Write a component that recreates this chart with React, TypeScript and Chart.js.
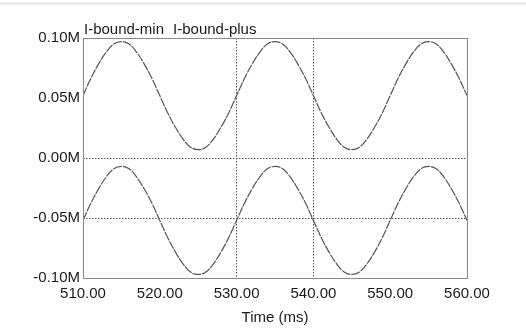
import React, { useEffect, useRef } from "react";
import { Chart, registerables } from "chart.js";

Chart.register(...registerables);

const times = [
  510, 511, 512, 513, 514, 515, 516, 517, 518, 519,
  520, 521, 522, 523, 524, 525, 526, 527, 528, 529,
  530, 531, 532, 533, 534, 535, 536, 537, 538, 539,
  540, 541, 542, 543, 544, 545, 546, 547, 548, 549,
  550, 551, 552, 553, 554, 555, 556, 557, 558, 559, 560,
];

const boundPlus = [
  0.052, 0.066, 0.078, 0.088, 0.095, 0.097, 0.095, 0.088, 0.078, 0.066,
  0.052, 0.038, 0.026, 0.016, 0.009, 0.007, 0.009, 0.016, 0.026, 0.038,
  0.052, 0.066, 0.078, 0.088, 0.095, 0.097, 0.095, 0.088, 0.078, 0.066,
  0.052, 0.038, 0.026, 0.016, 0.009, 0.007, 0.009, 0.016, 0.026, 0.038,
  0.052, 0.066, 0.078, 0.088, 0.095, 0.097, 0.095, 0.088, 0.078, 0.066, 0.052,
];

const boundMin = [
  -0.052, -0.038, -0.026, -0.016, -0.009, -0.007, -0.009, -0.016, -0.026, -0.038,
  -0.052, -0.066, -0.078, -0.088, -0.095, -0.097, -0.095, -0.088, -0.078, -0.066,
  -0.052, -0.038, -0.026, -0.016, -0.009, -0.007, -0.009, -0.016, -0.026, -0.038,
  -0.052, -0.066, -0.078, -0.088, -0.095, -0.097, -0.095, -0.088, -0.078, -0.066,
  -0.052, -0.038, -0.026, -0.016, -0.009, -0.007, -0.009, -0.016, -0.026, -0.038, -0.052,
];

const seriesNames = ["I-bound-min", "I-bound-plus"];
const xTitle = "Time (ms)";
const xMarkers = [530, 540];
const yMarkers = [0, -0.05];

const FONT = "'Liberation Sans', Arial, sans-serif";

const framePlugin = {
  id: "frame",
  afterDraw(chart: any) {
    const { ctx, chartArea } = chart;
    ctx.save();
    ctx.strokeStyle = "#e4e4e4";
    ctx.lineWidth = 2;
    ctx.beginPath();
    ctx.moveTo(0, 3.5);
    ctx.lineTo(chart.width, 3.5);
    ctx.stroke();
    ctx.strokeStyle = "#8a8a8a";
    ctx.lineWidth = 1;
    ctx.strokeRect(
      Math.round(chartArea.left) + 0.5,
      Math.round(chartArea.top) + 0.5,
      Math.round(chartArea.right - chartArea.left),
      Math.round(chartArea.bottom - chartArea.top)
    );
    ctx.fillStyle = "#1a1a1a";
    ctx.font = `15px ${FONT}`;
    ctx.textBaseline = "alphabetic";
    ctx.textAlign = "left";
    let x = chartArea.left + 1;
    seriesNames.forEach((n) => {
      ctx.fillText(n, x, chartArea.top - 4);
      x += ctx.measureText(n).width + 9;
    });
    ctx.restore();
  },
};

export default function App() {
  const ref = useRef<HTMLCanvasElement>(null);

  useEffect(() => {
    const canvas = ref.current;
    if (!canvas) return;
    const lineStyle = {
      borderColor: "#555",
      borderWidth: 1.2,
      borderDash: [9, 1],
      pointRadius: 0,
      tension: 0.4,
      fill: false,
    };
    const chart = new Chart(canvas, {
      type: "line",
      data: {
        datasets: [
          {
            label: seriesNames[0],
            data: times.map((t, i) => ({ x: t, y: boundMin[i] })),
            ...lineStyle,
          },
          {
            label: seriesNames[1],
            data: times.map((t, i) => ({ x: t, y: boundPlus[i] })),
            ...lineStyle,
          },
        ],
      },
      options: {
        animation: false,
        responsive: false,
        maintainAspectRatio: false,
        layout: { padding: { left: 0, right: 59, top: 38, bottom: 0 } },
        plugins: {
          legend: { display: false },
          tooltip: { enabled: false },
        },
        scales: {
          x: {
            type: "linear",
            min: 510,
            max: 560,
            afterFit(scale: any) {
              scale.height = 331 - 38 - 240;
            },
            ticks: {
              stepSize: 10,
              autoSkip: false,
              maxRotation: 0,
              padding: 7,
              color: "#1a1a1a",
              font: { family: FONT, size: 15 },
              callback: (v: any) => Number(v).toFixed(2),
            },
            grid: {
              drawTicks: false,
              lineWidth: 1,
              color: (c: any) =>
                xMarkers.some((m) => Math.abs(c.tick?.value - m) < 1e-6) ? "#555" : "rgba(0,0,0,0)",
            },
            border: { display: false, dash: [1.5, 1.5] },
            title: {
              display: true,
              text: xTitle,
              color: "#1a1a1a",
              font: { family: FONT, size: 15 },
              padding: { top: 5, bottom: 4 },
            },
          },
          y: {
            type: "linear",
            min: -0.1,
            max: 0.1,
            afterFit(scale: any) {
              scale.width = 83;
            },
            ticks: {
              stepSize: 0.05,
              padding: 3,
              color: "#1a1a1a",
              font: { family: FONT, size: 15 },
              callback: (v: any) => {
                const n = Math.abs(Number(v)) < 1e-9 ? 0 : Number(v);
                return n.toFixed(2) + "M";
              },
            },
            grid: {
              drawTicks: false,
              lineWidth: 1,
              color: (c: any) =>
                yMarkers.some((m) => Math.abs(c.tick?.value - m) < 1e-6) ? "#555" : "rgba(0,0,0,0)",
            },
            border: { display: false, dash: [1.5, 1.5] },
          },
        },
      },
      plugins: [framePlugin],
    });
    return () => chart.destroy();
  }, []);

  return (
    <div style={{ position: "fixed", left: 0, top: 0, width: 526, height: 331, background: "#fff" }}>
      <canvas ref={ref} width={526} height={331} style={{ width: 526, height: 331, display: "block" }} />
    </div>
  );
}
